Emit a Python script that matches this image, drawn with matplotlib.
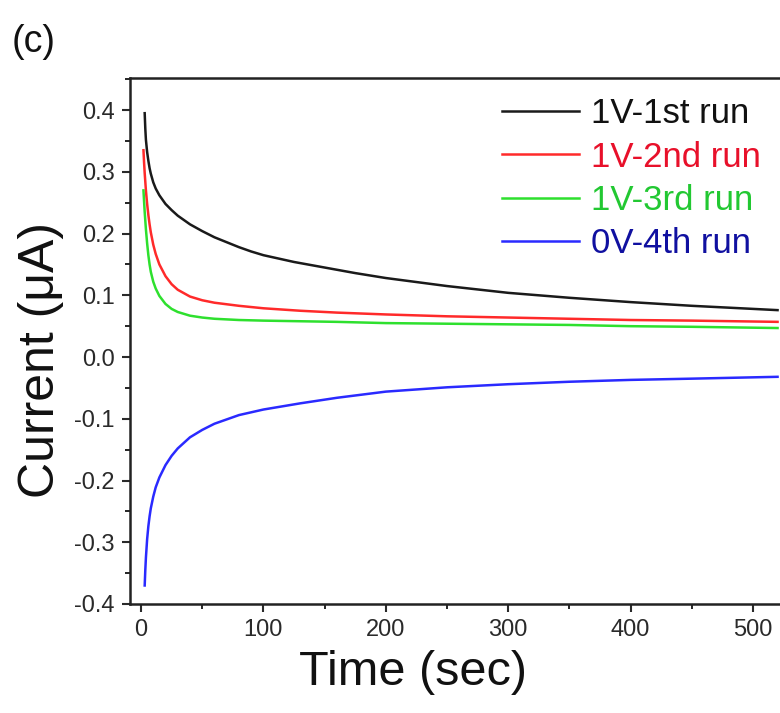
import matplotlib
matplotlib.use("Agg")
import matplotlib.pyplot as plt
from matplotlib.ticker import MultipleLocator

plt.rcParams['font.family'] = ['Liberation Sans', 'DejaVu Sans']

# Data (time in sec, current in uA)
t1 = [3, 3.5, 4, 5, 6, 7, 8, 10, 12, 15, 20, 25, 30, 40, 50, 60, 70, 80, 90, 100, 125, 150, 175, 200, 250, 300, 350, 400, 450, 520]
run1 = [0.395, 0.37, 0.352, 0.332, 0.318, 0.306, 0.297, 0.283, 0.273, 0.262, 0.248, 0.238, 0.229, 0.215, 0.204, 0.194, 0.186, 0.178, 0.171, 0.165, 0.154, 0.145, 0.136, 0.128, 0.115, 0.104, 0.096, 0.089, 0.083, 0.076]
t2 = [2, 2.5, 3, 4, 5, 6, 7, 8, 10, 12, 15, 20, 25, 30, 40, 50, 60, 80, 100, 130, 160, 200, 250, 300, 350, 400, 450, 520]
run2 = [0.335, 0.315, 0.298, 0.27, 0.248, 0.23, 0.215, 0.202, 0.182, 0.167, 0.15, 0.131, 0.118, 0.109, 0.098, 0.092, 0.088, 0.083, 0.079, 0.075, 0.072, 0.069, 0.066, 0.064, 0.062, 0.06, 0.059, 0.057]
run3 = [0.27, 0.252, 0.235, 0.207, 0.184, 0.165, 0.15, 0.138, 0.122, 0.111, 0.099, 0.086, 0.078, 0.073, 0.067, 0.064, 0.062, 0.06, 0.059, 0.058, 0.057, 0.055, 0.054, 0.053, 0.052, 0.05, 0.049, 0.047]
t4 = [3, 3.5, 4, 5, 6, 7, 8, 10, 12, 15, 20, 25, 30, 40, 50, 60, 80, 100, 130, 160, 200, 250, 300, 350, 400, 450, 520]
run4 = [-0.37, -0.345, -0.325, -0.295, -0.274, -0.258, -0.245, -0.226, -0.211, -0.195, -0.175, -0.16, -0.148, -0.13, -0.118, -0.108, -0.094, -0.085, -0.075, -0.066, -0.056, -0.049, -0.044, -0.040, -0.037, -0.035, -0.032]

labels = ['1V-1st run', '1V-2nd run', '1V-3rd run', '0V-4th run']
colors = ['#1a1a1a', '#ff2a2a', '#2ee02e', '#2a2aff']
text_colors = ['#111111', '#e8102a', '#22c832', '#1010a0']
x_ticks = [0, 100, 200, 300, 400, 500]
y_ticks = [-0.4, -0.3, -0.2, -0.1, 0.0, 0.1, 0.2, 0.3, 0.4]

fig = plt.figure(figsize=(7.8, 7.13), dpi=100)
ax = fig.add_axes([130/780, 1-604/713, 650/780, (604-78)/713])

series = [(t1, run1), (t2, run2), (t2, run3), (t4, run4)]
for (tt, yy), lab, c in zip(series, labels, colors):
    ax.plot(tt, yy, color=c, lw=1.8, label=lab)

ax.set_xlim(-9, 522)
ax.set_ylim(-0.4, 0.452)
ax.set_xticks(x_ticks)
ax.set_yticks(y_ticks)
ax.set_yticklabels([f"{v:.1f}" for v in y_ticks])
ax.xaxis.set_minor_locator(MultipleLocator(50))
ax.yaxis.set_minor_locator(MultipleLocator(0.05))
ax.tick_params(which='major', direction='out', length=6, width=1.5, labelsize=17, colors='#2a2a2a', pad=5)
ax.tick_params(which='minor', direction='out', length=3.5, width=1.2)
ax.spines['right'].set_visible(False)
for s in ['left', 'bottom', 'top']:
    ax.spines[s].set_linewidth(1.8)
    ax.spines[s].set_color('#222222')

ax.set_xlabel('Time (sec)', fontsize=35, color='#111111')
ax.xaxis.set_label_coords((413-130)/650, -0.088)
ax.set_ylabel('Current (μA)', fontsize=36, color='#111111')
ax.yaxis.set_label_coords(-0.102, (604-360)/526)

leg = ax.legend(loc='upper right', bbox_to_anchor=(1.0, 1.0), frameon=False, fontsize=25,
                handlelength=2.2, handletextpad=0.35, labelspacing=0.3, borderaxespad=0.15)
for txt, c in zip(leg.get_texts(), text_colors):
    txt.set_color(c)

fig.text(12/780, 1-42/713, '(c)', fontsize=27, va='center', ha='left', color='#111111')

fig.savefig('out.png', dpi=100)
